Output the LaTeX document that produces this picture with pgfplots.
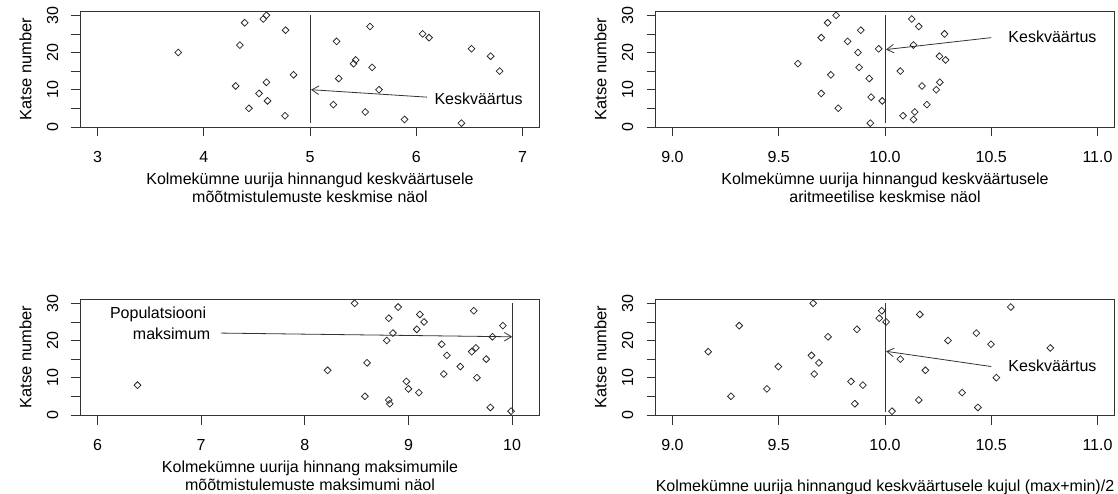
\documentclass[border=0pt]{standalone}
\usepackage{pgfplots}
\pgfplotsset{compat=1.18}
\usepackage{fontspec}
\setmainfont{Liberation Sans}
\usetikzlibrary{arrows.meta}

\pgfplotsset{
  rplot/.style={
    scale only axis, width=459pt, height=116.5pt,
    ymin=-0.16, ymax=31.16,
    ytick={0,5,...,30}, yticklabels={0,{},10,{},20,{},30},
    tick pos=left, tick align=outside,
    major tick length=9pt,
    every tick/.style={black!80, line width=0.75pt},
    axis line style={black!80, line width=0.8pt},
    yticklabel style={rotate=90, anchor=south, inner sep=0pt, font=\fontsize{16}{18}\selectfont},
    xticklabel style={anchor=north, inner sep=0pt, font=\fontsize{16}{18}\selectfont},
    yticklabel shift=13pt, xticklabel shift=15pt,
    ylabel={Katse number},
    every axis y label/.style={at={(axis description cs:-0.1198,0.5)}, rotate=90, anchor=center, font=\fontsize{16.5}{18}\selectfont},
    every axis x label/.style={at={(axis description cs:0.5,-0.385)}, anchor=north, align=center, inner sep=0pt, font=\fontsize{16}{18}\selectfont},
  },
  pts/.style={only marks, mark=square, mark size=2.4pt, mark options={rotate=45, line width=0.75pt, black!85, solid}},
  rline/.style={black!80, line width=0.8pt, mark=none},
  rarrow/.style={black!80, line width=0.8pt, mark=none, -{Straight Barb[length=7pt,width=8.5pt]}},
}

\begin{document}
\fontsize{16}{18}\selectfont
\begin{tikzpicture}[font=\fontsize{16}{18}\selectfont]
\useasboundingbox (0,0) rectangle (1118pt,493pt);

% Panel 1
\begin{axis}[rplot, at={(80.5pt,365.5pt)}, anchor=south west,
  xmin=2.84, xmax=7.16, xtick={3,4,5,6,7}, xticklabels={3,4,5,6,7},
  xlabel={Kolmekümne uurija hinnangud keskväärtusele\\mõõtmistulemuste keskmise näol}]
\addplot[pts] coordinates {
(3.76,20) (4.385,28) (4.34,22) (4.30,11) (4.425,5) (4.52,9) (4.56,29) (4.59,30)
(4.59,12) (4.60,7) (4.77,26) (4.765,3) (4.845,14) (5.25,23) (5.27,13) (5.22,6)
(5.565,27) (5.43,18) (5.41,17) (5.585,16) (5.65,10) (5.52,4) (5.89,2) (6.06,25)
(6.12,24) (6.52,21) (6.70,19) (6.785,15) (6.425,1)
};
\addplot[rline] coordinates {(5,1) (5,30)};
\addplot[rarrow] coordinates {(6.1,8) (5.01,10)};
\node[anchor=west, inner sep=0pt] at (axis cs:6.17,7.6) {Keskväärtus};
\end{axis}

% Panel 2
\begin{axis}[rplot, at={(655.5pt,365.5pt)}, anchor=south west,
  xmin=8.92, xmax=11.08, xtick={9,9.5,10,10.5,11}, xticklabels={9.0,9.5,10.0,10.5,11.0},
  xlabel={Kolmekümne uurija hinnangud keskväärtusele\\aritmeetilise keskmise näol}]
\addplot[pts] coordinates {
(9.59,17) (9.70,24) (9.73,28) (9.77,30) (9.745,14) (9.70,9) (9.78,5) (9.824,23)
(9.886,26) (9.873,20) (9.878,16) (9.926,13) (9.935,8) (9.931,1) (9.987,7) (9.97,21)
(10.126,29) (10.159,27) (10.134,22) (10.072,15) (10.174,11) (10.085,3) (10.14,4) (10.134,2)
(10.197,6) (10.241,10) (10.258,12) (10.256,19) (10.285,18) (10.28,25)
};
\addplot[rline] coordinates {(10,1) (10,30)};
\addplot[rarrow] coordinates {(10.5,24) (10.005,20.8)};
\node[anchor=west, inner sep=0pt] at (axis cs:10.58,24.3) {Keskväärtus};
\end{axis}

% Panel 3
\begin{axis}[rplot, at={(80.5pt,77.5pt)}, anchor=south west,
  xmin=5.836, xmax=10.264, xtick={6,7,8,9,10}, xticklabels={6,7,8,9,10},
  xlabel={Kolmekümne uurija hinnang maksimumile\\mõõtmistulemuste maksimumi näol}]
\addplot[pts] coordinates {
(6.386,8) (8.22,12) (8.48,30) (8.60,14) (8.58,5) (8.81,26) (8.85,22) (8.79,20)
(8.81,4) (8.82,3) (8.90,29) (8.98,9) (9.00,7) (9.08,23) (9.11,27) (9.15,25)
(9.10,6) (9.32,19) (9.37,16) (9.34,11) (9.50,13) (9.63,28) (9.61,17) (9.65,18)
(9.75,15) (9.66,10) (9.81,21) (9.79,2) (9.91,24) (9.99,1)
};
\addplot[rline] coordinates {(10,0.7) (10,30)};
\addplot[rarrow] coordinates {(7.19,22) (10,21)};
\node[anchor=east, inner sep=0pt] at (axis cs:7.05,26.9) {Populatsiooni};
\node[anchor=east, inner sep=0pt] at (axis cs:7.09,21.9) {maksimum};
\end{axis}

% Panel 4
\begin{axis}[rplot, at={(655.5pt,77.5pt)}, anchor=south west,
  xmin=8.92, xmax=11.08, xtick={9,9.5,10,10.5,11}, xticklabels={9.0,9.5,10.0,10.5,11.0},
  xlabel={\strut\\Kolmekümne uurija hinnangud keskväärtusele kujul (max+min)/2}]
\addplot[pts] coordinates {
(9.168,17) (9.275,5) (9.314,24) (9.444,7) (9.498,13) (9.662,30) (9.654,16) (9.689,14)
(9.667,11) (9.732,21) (9.84,9) (9.868,23) (9.896,8) (9.858,3) (9.973,26) (9.985,28)
(10.005,25) (10.072,15) (10.033,1) (10.164,27) (10.19,12) (10.159,4) (10.296,20) (10.363,6)
(10.43,22) (10.437,2) (10.499,19) (10.524,10) (10.592,29) (10.778,18)
};
\addplot[rline] coordinates {(10,0.7) (10,30)};
\addplot[rarrow] coordinates {(10.5,13) (10.005,17.1)};
\node[anchor=west, inner sep=0pt] at (axis cs:10.58,13.2) {Keskväärtus};
\end{axis}
\end{tikzpicture}
\end{document}
